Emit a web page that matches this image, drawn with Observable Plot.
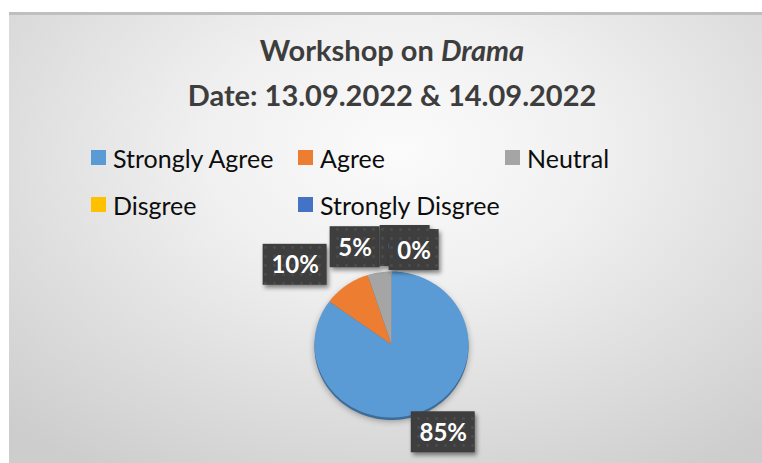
<!DOCTYPE html>
<html><head><meta charset="utf-8">
<script src="https://cdn.jsdelivr.net/npm/d3@7"></script>
<script src="https://cdn.jsdelivr.net/npm/@observablehq/plot@0.6"></script>
<style>
html,body{margin:0;padding:0;background:#fff;}
#wrap{position:relative;width:762px;height:463px;overflow:hidden;background:#fff;font-family:Lato,sans-serif;}
#frame{position:absolute;left:9px;top:12px;right:0;bottom:0;border-top:3px solid #bfbfbf;
  background:radial-gradient(ellipse 75% 85% at 52% 30%, #fbfbfb 0%, #f0f0f0 35%, #d9d9d9 78%, #cdcdcd 100%);}
#title{position:absolute;left:0;top:27px;width:762px;padding-left:22px;box-sizing:border-box;text-align:center;
  font-weight:700;font-size:29px;line-height:45px;color:#3d3d3d;}
#legend{position:absolute;left:91px;top:134px;display:grid;grid-template-columns:207px 207px auto;grid-auto-rows:47px;
  font-size:25px;color:#0d0d0d;}
.item{display:flex;align-items:center;white-space:nowrap;}
.sw{width:15px;height:15px;margin-right:7px;flex:none;}
#chart{position:absolute;left:0;top:0;}
</style>
</head><body>
<div id="wrap">
  <div id="frame"></div>
  <div id="title">Workshop on <i>Drama</i><br>Date: 13.09.2022 &amp; 14.09.2022</div>
  <div id="legend"></div>
  <div id="chart"></div>
</div>
<script>
const categories = ["Strongly Agree", "Agree", "Neutral", "Disgree", "Strongly Disgree"];
const values = [85, 10, 5, 0, 0];
const labels = ["85%", "10%", "5%", "0%", "0%"];
const colors = ["#5b9bd5", "#ed7d31", "#a5a5a5", "#ffc000", "#4472c4"];

// legend
const leg = document.getElementById("legend");
categories.forEach((c, i) => {
  const it = document.createElement("div"); it.className = "item";
  const sw = document.createElement("span"); sw.className = "sw"; sw.style.background = colors[i];
  const tx = document.createElement("span"); tx.textContent = c;
  it.appendChild(sw); it.appendChild(tx); leg.appendChild(it);
});

// layout constants
const W = 762, H = 463, cx = 391, cy = 344, r = 77, ry = 73;

const arcs = d3.pie().sort(null).value(d => d)(values);

// wedge polygons in unit coordinates
const wedges = arcs.flatMap((a, i) => {
  const pts = [{x: 0, y: 0, key: categories[i]}];
  const n = Math.max(2, Math.ceil((a.endAngle - a.startAngle) / (Math.PI / 120)));
  for (let k = 0; k <= n; k++) {
    const t = a.startAngle + (a.endAngle - a.startAngle) * k / n;
    pts.push({x: Math.sin(t), y: Math.cos(t), key: categories[i]});
  }
  return pts;
});

// label boxes (px offsets from centre, y up)
const ctx = document.createElement("canvas").getContext("2d");
ctx.font = "bold 24px Lato";
const gap = 5, padX = 8, boxH = 41;
const mids = arcs.map(a => (a.startAngle + a.endAngle) / 2);
const boxes = arcs.map((a, i) => {
  const m = mids[i], ux = Math.sin(m), uy = Math.cos(m);
  const w = Math.round(ctx.measureText(labels[i]).width) + 2 * padX;
  const px = (r + gap) * ux, py = (ry + gap) * uy;
  return {i, w, h: boxH, cx: px + ux * w / 2, cy: py + uy * boxH / 2, moved: false,
          stack: i > 0 && Math.abs(m - mids[i - 1]) < 1e-9};
});
const ovx = (a, b) => Math.min(a.cx + a.w/2, b.cx + b.w/2) - Math.max(a.cx - a.w/2, b.cx - b.w/2);
const ovy = (a, b) => Math.min(a.cy + a.h/2, b.cy + b.h/2) - Math.max(a.cy - a.h/2, b.cy - b.h/2);
for (let i = boxes.length - 2; i >= 0; i--) {
  const a = boxes[i], b = boxes[i + 1];
  if (a.stack || b.stack) continue;
  const ox = ovx(a, b), oy = ovy(a, b);
  if (ox > 0 && oy > 0) {
    const left = a.cx <= b.cx ? a : b, right = left === a ? b : a;
    if (!a.moved && !b.moved) { left.cx -= ox / 2 + 3; right.cx += ox / 2 - 3; }
    else if (!left.moved) left.cx -= ox + 3; else right.cx += ox;
    a.moved = b.moved = true;
  }
}
boxes.forEach((b, i) => { if (b.stack) { b.cx = boxes[i - 1].cx + 9; b.cy = boxes[i - 1].cy - 4; } });

const boxData = boxes.map(b => ({
  x1: (b.cx - b.w / 2) / r, x2: (b.cx + b.w / 2) / r,
  y1: (b.cy - b.h / 2) / ry, y2: (b.cy + b.h / 2) / ry,
  x: b.cx / r, y: b.cy / ry, label: labels[b.i]
}));

const labelMarks = boxData.flatMap(d => [
  Plot.rect([d], {x1: "x1", x2: "x2", y1: "y1", y2: "y2", fill: "url(#dots)"}),
  Plot.text([d], {x: "x", y: "y", text: "label", fill: "white", fontSize: 24, fontWeight: "bold",
                  fontFamily: "Lato, sans-serif", dy: 1})
]);

const plot = Plot.plot({
  width: W, height: H, margin: 0,
  x: {domain: [-1, 1], range: [cx - r, cx + r], axis: null},
  y: {domain: [-1, 1], range: [cy + ry, cy - ry], axis: null},
  color: {domain: categories, range: colors},
  style: {background: "transparent", overflow: "visible"},
  marks: [
    Plot.line(wedges, {x: "x", y: "y", z: "key", fill: "#3d6c98", stroke: "none", curve: "linear-closed", dy: 2.5}),
    Plot.line(wedges, {x: "x", y: "y", z: "key", fill: "key", stroke: "none", curve: "linear-closed"}),
    ...labelMarks
  ]
});

const svg = d3.select(plot);
svg.insert("defs", ":first-child").html(
  '<pattern id="dots" width="9" height="9" patternUnits="userSpaceOnUse">' +
  '<rect width="9" height="9" fill="#3e3e3e"/><circle cx="4.5" cy="4.5" r="1.4" fill="#4c4c4c"/></pattern>');
svg.selectAll('g[fill="url(#dots)"]').style("filter", "drop-shadow(2px 3px 2px rgba(0,0,0,0.45))");
svg.select('g[fill="#3d6c98"]').style("filter", "drop-shadow(0px 1px 3px rgba(0,0,0,0.35))");
document.getElementById("chart").appendChild(plot);
</script>
</body></html>
